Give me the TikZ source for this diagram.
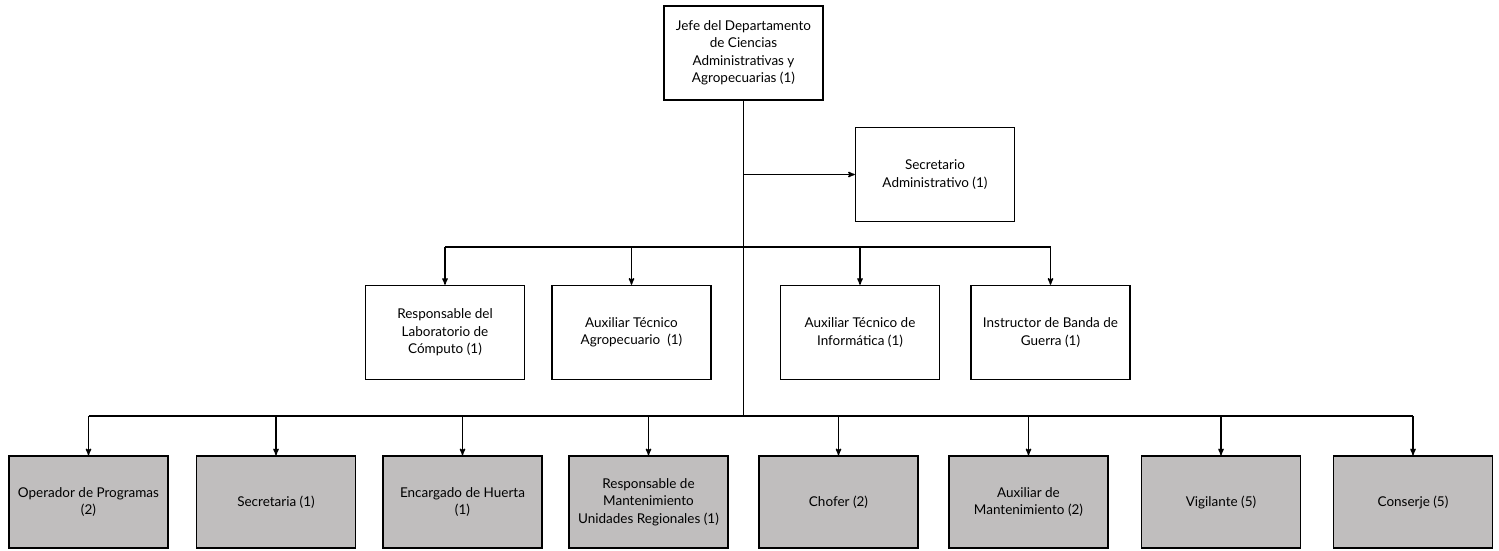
\documentclass[tikz,border=0pt]{standalone}
\usepackage{fontspec}
\setmainfont{Lato}
\usetikzlibrary{arrows}
\definecolor{lowgray}{RGB}{192,190,190}

\begin{document}
\begin{tikzpicture}[x=1pt,y=-1pt,->,>=stealth',line width=1.3pt,
  main node/.style={rectangle,draw,line width=1.5pt,minimum width=159pt,minimum height=94pt,inner sep=0pt,align=center,font=\fontsize{13.5}{17.5}\selectfont},
  low node/.style={main node,fill=lowgray,minimum height=92pt}]
  \useasboundingbox[-] (0,0) rectangle (1499,550);

  \node[main node] (J) at (743.5,53) {Jefe del Departamento\\de Ciencias\\Administrativas y\\Agropecuarias (1)};
  \node[main node] (S) at (935,174.5) {Secretario\\Administrativo (1)};

  \node[main node] (R1) at (445,332.5) {Responsable del\\Laboratorio de\\Cómputo (1)};
  \node[main node] (R2) at (631.5,332.5) {Auxiliar Técnico\\Agropecuario~ (1)};
  \node[main node] (R3) at (860,332.5) {Auxiliar Técnico de\\Informática (1)};
  \node[main node] (R4) at (1050.5,332.5) {Instructor de Banda de\\Guerra (1)};

  \node[low node] (B1) at (88.5,502) {Operador de Programas\\(2)};
  \node[low node] (B2) at (276,502) {Secretaria (1)};
  \node[low node] (B3) at (462.5,502) {Encargado de Huerta\\(1)};
  \node[low node] (B4) at (648.5,502) {Responsable de\\Mantenimiento\\Unidades Regionales (1)};
  \node[low node] (B5) at (838.5,502) {Chofer (2)};
  \node[low node] (B6) at (1028.5,502) {Auxiliar de\\Mantenimiento (2)};
  \node[low node] (B7) at (1221,502) {Vigilante (5)};
  \node[low node] (B8) at (1413,502) {Conserje (5)};

  % trunk and bars
  \coordinate (t1) at (743.5,174.5);
  \coordinate (t2) at (743.5,247);
  \coordinate (t3) at (743.5,416);
  \draw[-] (J) -- (t3);
  \draw (t1) -- (S);
  \draw[-] (R1.north |- t2) -- (R4.north |- t2);
  \draw[-] (B1.north |- t3) -- (B8.north |- t3);

  \foreach \n in {R1,R2,R3,R4}
    \draw (\n.north |- t2) -- (\n);
  \foreach \n in {B1,B2,B3,B4,B5,B6,B7,B8}
    \draw (\n.north |- t3) -- (\n);
\end{tikzpicture}
\end{document}
